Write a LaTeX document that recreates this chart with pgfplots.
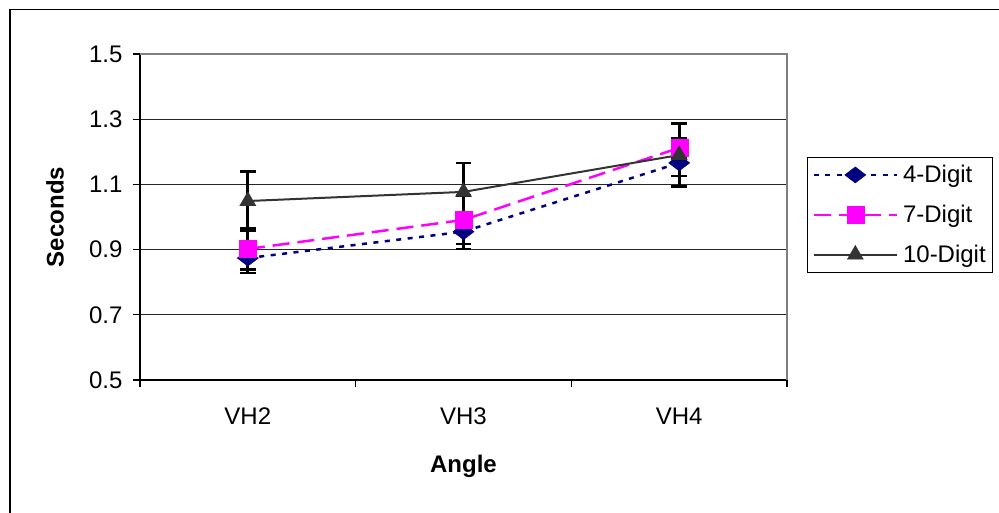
\documentclass[border=0pt]{standalone}
\usepackage{fontspec}
\setmainfont{Liberation Sans}
\usepackage{pgfplots}
\pgfplotsset{compat=1.18}
\definecolor{navyc}{RGB}{0,0,128}
\definecolor{magc}{RGB}{255,0,255}
\definecolor{darkc}{RGB}{51,51,51}
\definecolor{grayc}{RGB}{128,128,128}
\begin{document}
\begin{tikzpicture}
\path[use as bounding box] (0,0) rectangle (999bp,513bp);
\fill[white] (0,0) rectangle (999bp,513bp);
\draw[line width=1.6bp,black] (10bp,0) -- (10bp,503.5bp) -- (999bp,503.5bp);
\begin{axis}[
  at={(140bp,133bp)}, anchor=south west,
  scale only axis, width=647bp, height=326bp,
  xmin=-0.5, xmax=2.5, ymin=0.5, ymax=1.5,
  axis lines=left, axis line style={-, line width=1.3bp, black},
  xtick={0,1,2}, xticklabels={VH2,VH3,VH4},
  minor xtick={-0.5,0.5,1.5,2.5},
  ytick={0.5,0.7,0.9,1.1,1.3,1.5},
  tick align=outside,
  x tick style={draw=none},
  minor x tick style={draw=black, line width=1.3bp},
  minor tick length=7bp,
  y tick style={black, line width=1.3bp},
  major tick length=7bp,
  ymajorgrids, grid style={black!85, line width=1.1bp},
  tick label style={font=\fontsize{24bp}{28bp}\selectfont},
  yticklabel style={xshift=-7bp},
  xticklabel style={yshift=-17bp},
  /pgf/number format/.cd, fixed, fixed zerofill, precision=1, assume math mode=true,
  /pgfplots/.cd,
  xlabel={\textbf{Angle}}, ylabel={\textbf{Seconds}},
  every axis x label/.style={at={(axis description cs:0.5,0)}, anchor=center, yshift=-86bp, font=\fontsize{24bp}{28bp}\selectfont},
  every axis y label/.style={at={(axis description cs:0,0.5)}, rotate=90, anchor=center, yshift=85bp, font=\fontsize{24bp}{28bp}\selectfont},
  legend style={at={(axis description cs:1.031,0.684)}, anchor=north west,
    draw=black, line width=1bp, fill=white,
    font=\fontsize{24bp}{28bp}\selectfont,
    inner xsep=5bp, inner ysep=6bp, row sep=17bp,
    cells={anchor=west},
    /tikz/every odd column/.append style={column sep=3bp}},
  legend image code/.code={\draw[mark repeat=2,mark phase=2,#1] plot coordinates {(0bp,0bp) (41.5bp,0bp) (83bp,0bp)};},
  clip=false,
]
% error bars first (beneath markers)
\addplot[draw=none, forget plot, error bars/.cd, y dir=both, y explicit,
  error bar style={line width=2.7bp, black},
  error mark options={rotate=90, mark size=7.8bp, line width=2.7bp, black}]
  coordinates {(0,0.874) +- (0,0.046) (1,0.955) +- (0,0.053) (2,1.166) +- (0,0.040)};
\addplot[draw=none, forget plot, error bars/.cd, y dir=both, y explicit,
  error bar style={line width=2.7bp, black},
  error mark options={rotate=90, mark size=7.8bp, line width=2.7bp, black}]
  coordinates {(0,0.902) +- (0,0.062) (1,0.991) +- (0,0.074) (2,1.212) +- (0,0.030)};
\addplot[draw=none, forget plot, error bars/.cd, y dir=both, y explicit,
  error bar style={line width=2.7bp, black},
  error mark options={rotate=90, mark size=7.8bp, line width=2.7bp, black}]
  coordinates {(0,1.049) +- (0,0.090) (1,1.077) +- (0,0.089) (2,1.190) +- (0,0.097)};
% series
\addplot[navyc, line width=2.5bp, dash pattern=on 5bp off 6.5bp,
  mark=diamond*, mark size=8bp, mark options={solid, xscale=1.75, fill=navyc, draw=navyc, line width=0.5bp}]
  coordinates {(0,0.874) (1,0.955) (2,1.166)};
\addlegendentry{4-Digit}
\addplot[magc, line width=2.5bp, dash pattern=on 17bp off 8bp,
  mark=square*, mark size=8.5bp, mark options={solid, fill=magc, draw=magc, line width=0.1bp}]
  coordinates {(0,0.902) (1,0.991) (2,1.212)};
\addlegendentry{7-Digit}
\addplot[darkc, line width=2bp,
  mark=triangle*, mark size=9.5bp, mark options={solid, fill=darkc, draw=darkc, line width=0.1bp}]
  coordinates {(0,1.049) (1,1.077) (2,1.190)};
\addlegendentry{10-Digit\hspace{8bp}}
\draw[grayc, line width=2bp] (rel axis cs:0,1) -- (rel axis cs:1,1) -- (rel axis cs:1,0);
\end{axis}
\end{tikzpicture}
\end{document}
